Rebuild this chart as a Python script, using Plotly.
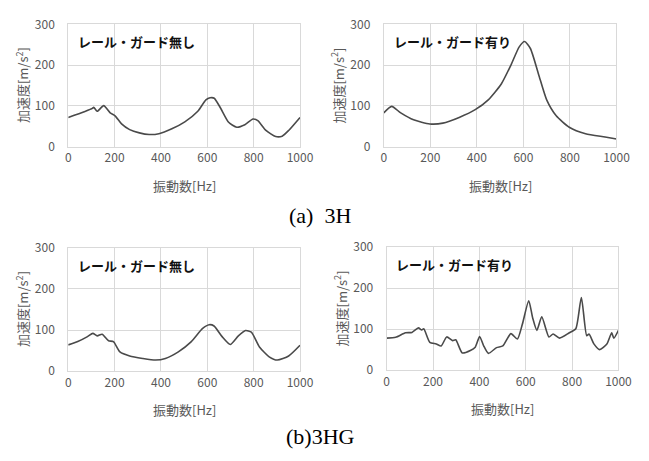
import plotly.graph_objects as go

W, H = 649, 461

# ---- data ----
hz_3h_off = [0, 69, 104, 110, 125, 153, 181, 202, 230, 265, 307, 349, 391, 447, 503, 559, 594, 612, 630, 657, 692, 727, 762, 797, 818, 853, 895, 923, 951, 1000]
acc_3h_off = [72, 86, 94, 97, 87, 101, 83, 76, 56, 42, 34, 30, 32, 44, 61, 87, 115, 120, 119, 95, 60, 48, 54, 68, 64, 40, 25, 26, 40, 72]

hz_3h_on = [0, 34, 73, 128, 198, 254, 324, 393, 449, 505, 547, 582, 605, 630, 665, 700, 741, 797, 867, 951, 1000]
acc_3h_on = [83, 99, 83, 66, 56, 58, 72, 91, 115, 154, 201, 245, 258, 241, 178, 115, 76, 48, 32, 24, 19]

hz_3hg_off = [0, 41, 83, 106, 125, 146, 174, 195, 223, 265, 321, 377, 419, 475, 531, 580, 608, 629, 664, 699, 734, 765, 790, 825, 867, 902, 951, 1000]
acc_3hg_off = [64, 72, 84, 92, 86, 90, 74, 72, 47, 37, 31, 27, 31, 47, 72, 104, 113, 110, 84, 65, 86, 99, 95, 59, 35, 27, 37, 63]

hz_3hg_on = [0, 39, 81, 109, 137, 151, 160, 186, 214, 235, 259, 284, 298, 326, 361, 382, 401, 418, 439, 474, 501, 536, 564, 585, 613, 630, 648, 669, 700, 718, 746, 788, 816, 840, 863, 873, 894, 919, 950, 971, 980, 1000]
acc_3hg_on = [78, 80, 91, 92, 103, 98, 101, 68, 64, 59, 81, 72, 74, 42, 48, 56, 82, 60, 41, 55, 59, 89, 76, 111, 169, 127, 97, 130, 81, 88, 78, 91, 101, 177, 84, 88, 64, 50, 64, 91, 78, 97]

panel_titles = ["レール・ガード無し", "レール・ガード有り", "レール・ガード無し", "レール・ガード有り"]
x_ticks = [0, 200, 400, 600, 800, 1000]
y_ticks = [0, 100, 200, 300]
x_title = "振動数[Hz]"
y_title = "加速度[m/s<sup>2</sup>]"
captions = ["(a)  3H", "(b)3HG"]

# ---- layout geometry (pixels) ----
panels = [
    (67, 305, 15, 142),
    (391, 630, 15, 142),
    (67, 305, 247, 375),
    (394, 632, 246, 374),
]
series = [(hz_3h_off, acc_3h_off), (hz_3h_on, acc_3h_on),
          (hz_3hg_off, acc_3hg_off), (hz_3hg_on, acc_3hg_on)]

def px(x):
    return x / W

def py(y):
    return 1 - y / H

fig = go.Figure()
FONT = "Noto Sans CJK JP"
GRAY = "#595959"
GRID = "#d9d9d9"
annotations = []

for i, ((x0, x1, y0, y1), (xs, ys)) in enumerate(zip(panels, series)):
    n = "" if i == 0 else str(i + 1)
    fig.add_trace(go.Scatter(x=xs, y=ys, mode="lines",
                             line=dict(color="#4a4a4a", width=1.6, shape="spline", smoothing=0.6),
                             xaxis="x" + n, yaxis="y" + n, showlegend=False,
                             hoverinfo="skip"))
    fig.layout["xaxis" + n] = dict(
        domain=[px(x0), px(x1)], anchor="y" + n, range=[0, 1000],
        tickvals=x_ticks, showgrid=True, gridcolor=GRID, gridwidth=1,
        showline=True, linecolor=GRID, mirror=True, zeroline=False,
        ticks="", tickfont=dict(family=FONT, size=12, color=GRAY),
    )
    fig.layout["yaxis" + n] = dict(
        domain=[py(y1), py(y0)], anchor="x" + n, range=[0, 300],
        tickvals=y_ticks, showgrid=True, gridcolor=GRID, gridwidth=1,
        showline=True, linecolor=GRID, mirror=True, zeroline=False,
        ticks="", ticklabelstandoff=10, tickfont=dict(family=FONT, size=12, color=GRAY),
    )
    # panel label
    annotations.append(dict(
        text="<b>" + panel_titles[i] + "</b>", x=px(x0 + 8), y=py(y0 + 18),
        xref="paper", yref="paper", xanchor="left", yanchor="middle",
        showarrow=False, font=dict(family=FONT, size=13, color="#111111")))
    # x title
    annotations.append(dict(
        text=x_title, x=px((x0 + x1) / 2), y=py(y1 + 40),
        xref="paper", yref="paper", xanchor="center", yanchor="middle",
        showarrow=False, font=dict(family=FONT, size=13, color=GRAY)))
    # y title
    annotations.append(dict(
        text=y_title, x=px(x0 - 48), y=py((y0 + y1) / 2),
        xref="paper", yref="paper", xanchor="center", yanchor="middle",
        textangle=-90, showarrow=False, font=dict(family=FONT, size=13, color=GRAY)))

annotations.append(dict(text=captions[0], x=px(326), y=py(213), xref="paper", yref="paper",
                        xanchor="center", yanchor="middle", showarrow=False,
                        font=dict(family="Liberation Serif", size=22, color="#000000")))
annotations.append(dict(text=captions[1], x=px(326), y=py(443), xref="paper", yref="paper",
                        xanchor="center", yanchor="middle", showarrow=False,
                        font=dict(family="Liberation Serif", size=22, color="#000000")))

fig.update_layout(
    width=W, height=H, margin=dict(l=0, r=0, t=0, b=0),
    paper_bgcolor="white", plot_bgcolor="white",
    annotations=annotations, showlegend=False,
)

fig.write_html("out.html", config={"displayModeBar": False},
               post_script="document.body.style.margin='0';document.body.style.overflow='hidden';")
